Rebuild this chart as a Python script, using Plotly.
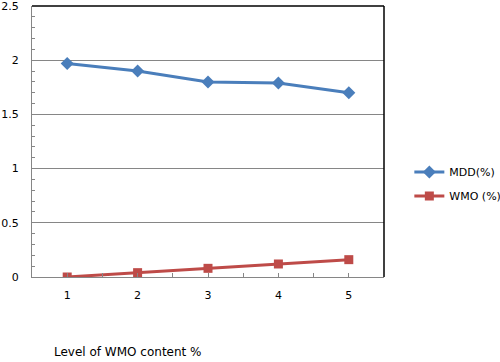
import plotly.graph_objects as go

levels = [1, 2, 3, 4, 5]
mdd = [1.97, 1.90, 1.80, 1.79, 1.70]
wmo = [0.0, 0.04, 0.08, 0.12, 0.16]
y_ticks = [0, 0.5, 1, 1.5, 2, 2.5]
y_tick_text = ["0", "0.5", "1", "1.5", "2", "2.5"]

FONT = "DejaVu Sans"

fig = go.Figure()
fig.add_trace(go.Scatter(
    x=levels, y=mdd, name="MDD(%)", mode="lines+markers",
    line=dict(color="#4A7EBB", width=3),
    marker=dict(symbol="diamond", size=10, color="#4A7EBB"),
    legend="legend", showlegend=True,
))
fig.add_trace(go.Scatter(
    x=levels, y=wmo, name="WMO (%)", mode="lines+markers",
    line=dict(color="#BE4B48", width=3),
    marker=dict(symbol="square", size=9, color="#BE4B48"),
    legend="legend2", showlegend=True,
))

fig.update_layout(
    width=500, height=362,
    margin=dict(l=32, r=116, t=6, b=85, autoexpand=False),
    paper_bgcolor="white", plot_bgcolor="white",
    showlegend=True,
    font=dict(family=FONT, size=11, color="black"),
    xaxis=dict(
        range=[0.5, 5.5], tickvals=levels, ticktext=[str(v) for v in levels],
        showgrid=False, zeroline=False, automargin=False,
        showline=True, linecolor="#868686", linewidth=1,
        ticks="inside", ticklen=4, tickcolor="#868686",
        minor=dict(tick0=0.5, dtick=1, ticks="inside", ticklen=4, tickcolor="#868686", showgrid=False),
        tickfont=dict(size=11), ticklabelstandoff=8,
    ),
    yaxis=dict(
        range=[0, 2.5], tickvals=y_ticks, ticktext=y_tick_text,
        showgrid=True, gridcolor="#868686", gridwidth=1, zeroline=False, automargin=False,
        showline=True, linecolor="#868686", linewidth=1,
        ticks="inside", ticklen=4, tickcolor="#868686",
        minor=dict(dtick=0.1, ticks="inside", ticklen=3, tickcolor="#868686", showgrid=False),
        tickfont=dict(size=11), ticklabelstandoff=10, ticklabeloverflow="allow",
    ),
    legend=dict(x=1.072, y=(362 - 172 - 85) / 271, xanchor="left", yanchor="middle",
                font=dict(size=11), bgcolor="rgba(0,0,0,0)", itemwidth=30),
    legend2=dict(x=1.072, y=(362 - 196 - 85) / 271, xanchor="left", yanchor="middle",
                 font=dict(size=11), bgcolor="rgba(0,0,0,0)", itemwidth=30),
    shapes=[
        dict(type="line", xref="paper", yref="paper", x0=0, x1=1, y0=1, y1=1,
             line=dict(color="black", width=1.5)),
        dict(type="line", xref="paper", yref="paper", x0=1, x1=1, y0=0, y1=1,
             line=dict(color="black", width=1.5)),
    ],
    annotations=[
        dict(text="Level of WMO content %", xref="paper", yref="paper",
             x=(52 - 32) / 352, y=-(352 - 277) / 271, xanchor="left", yanchor="middle",
             showarrow=False, font=dict(size=12)),
    ],
)

fig.write_html("out.html", config={"displayModeBar": False},
               post_script="document.body.style.margin='0';")
